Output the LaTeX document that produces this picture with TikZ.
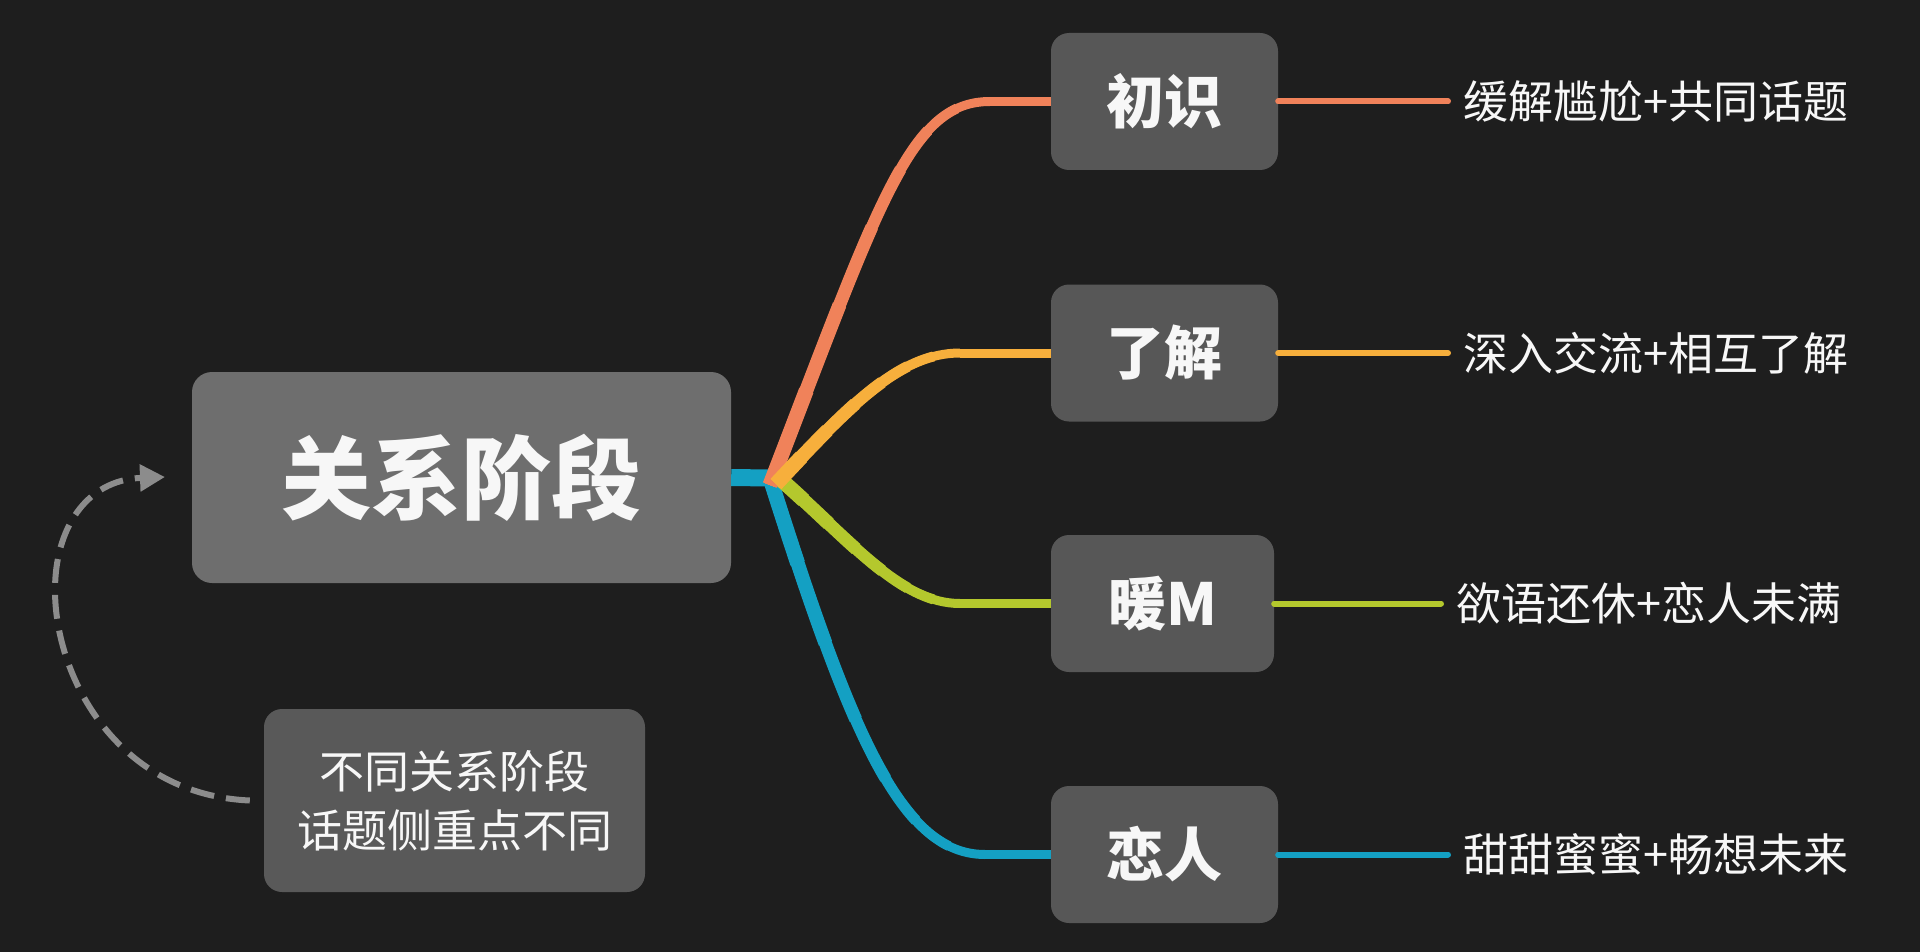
\documentclass[tikz,border=0pt]{standalone}
\usepackage{fontspec}
\setmainfont{Noto Sans CJK SC}
\usetikzlibrary{arrows.meta,calc}
\definecolor{bg}{HTML}{1E1E1E}
\definecolor{mainbox}{HTML}{6E6E6E}
\definecolor{subbox}{HTML}{575757}
\definecolor{notebox}{HTML}{595959}
\definecolor{coral}{HTML}{F0825A}
\definecolor{amber}{HTML}{F7AF3C}
\definecolor{lime}{HTML}{B4C82D}
\definecolor{teal}{HTML}{14A0C3}
\definecolor{dashgray}{HTML}{8C8C8C}
\definecolor{txt}{HTML}{F7F7F7}
\tikzset{
  mainnode/.style={fill=mainbox, rounded corners=20pt, minimum width=539pt, minimum height=211pt, inner sep=0pt, text=txt, font=\fontsize{90}{90}\selectfont\bfseries},
  subnode/.style={fill=subbox, rounded corners=18pt, minimum width=227pt, minimum height=137pt, inner sep=0pt, text=txt, font=\fontsize{58}{58}\selectfont\bfseries},
  notenode/.style={fill=notebox, rounded corners=18pt, minimum width=381pt, minimum height=183pt, inner sep=0pt, text=txt, align=center, font=\fontsize{45}{59}\selectfont},
  leaftext/.style={anchor=west, inner sep=0pt, text=txt, font=\fontsize{45}{45}\selectfont},
  branch/.style={line width=9pt, line cap=butt},
  leafline/.style={line width=6pt, line cap=round},
  loopback/.style={dashgray, line width=6pt, dash pattern=on 24pt off 12pt, -{Triangle[length=25pt,width=26pt]}}
}
% tapered branch: #1 colour, #2..#5 the four Bezier points, #6 target node
\newcommand\taperbranch[6]{%
  \coordinate (p0) at #2; \coordinate (p1) at #3;
  \coordinate (p2) at #4; \coordinate (p3) at #5;
  \draw[branch, #1] (p3) -- (#6.west);
  \foreach \tv/\wv in {1/9,0.85/10,0.7/11,0.55/12,0.4/13,0.25/14,0.12/15}{
    \coordinate (q1) at ($(p0)!\tv!(p1)$);
    \coordinate (m12) at ($(p1)!\tv!(p2)$);
    \coordinate (m23) at ($(p2)!\tv!(p3)$);
    \coordinate (q2) at ($(q1)!\tv!(m12)$);
    \coordinate (rr) at ($(m12)!\tv!(m23)$);
    \coordinate (q3) at ($(q2)!\tv!(rr)$);
    \draw[#1, line width=\wv pt, line cap=butt] (p0) .. controls (q1) and (q2) .. (q3);
  }%
}
\begin{document}
\begin{tikzpicture}[x=1pt,y=-1pt]
\fill[bg] (0,0) rectangle (1920,952);
\useasboundingbox (0,0) rectangle (1920,952);

% nodes
\node[mainnode] (main) at (461.5,477.5) {关系阶段};
\node[subnode] (b1) at (1164.5,101.5) {初识};
\node[subnode] (b2) at (1164.5,353) {了解};
\node[subnode, minimum width=223pt] (b3) at (1162.5,603.5) {暖M};
\node[subnode] (b4) at (1164.5,854.5) {恋人};
\node[notenode] (note) at (454.5,800.5) {不同关系阶段\\话题侧重点不同};

% leaf texts
\node[leaftext] (t1) at (1463,101.5) {缓解尴尬+共同话题};
\node[leaftext] (t2) at (1463,353) {深入交流+相互了解};
\node[leaftext] (t3) at (1456,603.5) {欲语还休+恋人未满};
\node[leaftext] (t4) at (1463,854.5) {甜甜蜜蜜+畅想未来};

% hub
\coordinate (hub) at (770,478);

% blue stub
\draw[teal, line width=17pt] (main.east) -- (hub);

% branches
\taperbranch{teal}{(hub)}{(850,730)}{(900,854.5)}{(985,854.5)}{b4}
\taperbranch{lime}{([xshift=9pt]hub)}{(850,540)}{(900,603.5)}{(960,603.5)}{b3}
\taperbranch{coral}{([yshift=-7pt]hub)}{(880,200)}{(910,101.5)}{(990,101.5)}{b1}
\taperbranch{amber}{([xshift=6pt,yshift=-6pt]hub)}{(850,405)}{(900,353)}{(960,353)}{b2}

% leaf lines
\draw[leafline, coral] (b1.east) -- ([xshift=-15pt]t1.west);
\draw[leafline, amber] (b2.east) -- ([xshift=-15pt]t2.west);
\draw[leafline, lime] (b3.east) -- ([xshift=-15pt]t3.west);
\draw[leafline, teal] (b4.east) -- ([xshift=-15pt]t4.west);

% dashed loop arrow
\coordinate (loopend) at (165,477);
\draw[loopback] ([xshift=-14pt]note.west) .. controls (120,795) and (55,680) .. (55,590) .. controls (55,530) and (85,480) .. (loopend);
\end{tikzpicture}
\end{document}
